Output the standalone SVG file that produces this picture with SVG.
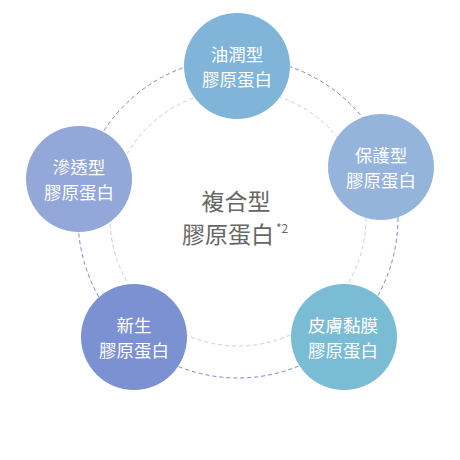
<svg xmlns="http://www.w3.org/2000/svg" width="460" height="460" viewBox="0 0 460 460">
<style>
.ring{fill:none;stroke-width:1}
.outer{stroke:#7489cc;stroke-dasharray:4 3}
.inner{stroke:#c6cfe1;stroke-dasharray:4 3}
.nt{font-family:"Noto Sans CJK TC","Noto Sans CJK SC",sans-serif;font-size:17.5px;fill:#ffffff;text-anchor:middle}
.ct{font-family:"Noto Sans CJK TC","Noto Sans CJK SC",sans-serif;font-size:23px;fill:#666666}
</style>
<rect width="460" height="460" fill="#ffffff"/>
<g id="connectors">
<circle class="ring outer" cx="238" cy="218" r="160"/>
<circle class="ring inner" cx="238" cy="218" r="128"/>
</g>
<g id="center">
<text class="ct" x="236" y="210" text-anchor="middle">複合型</text>
<text class="ct" x="182" y="243">膠原蛋白<tspan font-size="12" dy="-10" dx="2">*2</tspan></text>
</g>
<g id="node-oil">
<circle cx="237" cy="66" r="53" fill="#80b4d8"/>
<text class="nt" x="237" y="61">油潤型</text>
<text class="nt" x="237" y="86">膠原蛋白</text>
</g>
<g id="node-protect">
<circle cx="381" cy="167" r="53" fill="#95b4dc"/>
<text class="nt" x="381" y="162">保護型</text>
<text class="nt" x="381" y="187">膠原蛋白</text>
</g>
<g id="node-penetrate">
<circle cx="79" cy="179" r="53" fill="#93a7d9"/>
<text class="nt" x="79" y="174">滲透型</text>
<text class="nt" x="79" y="199">膠原蛋白</text>
</g>
<g id="node-new">
<circle cx="134" cy="337" r="53" fill="#7b91d1"/>
<text class="nt" x="134" y="332">新生</text>
<text class="nt" x="134" y="357">膠原蛋白</text>
</g>
<g id="node-skin">
<circle cx="344" cy="337" r="53" fill="#7bbcd5"/>
<text class="nt" x="343" y="332">皮膚黏膜</text>
<text class="nt" x="343" y="357">膠原蛋白</text>
</g>
</svg>
